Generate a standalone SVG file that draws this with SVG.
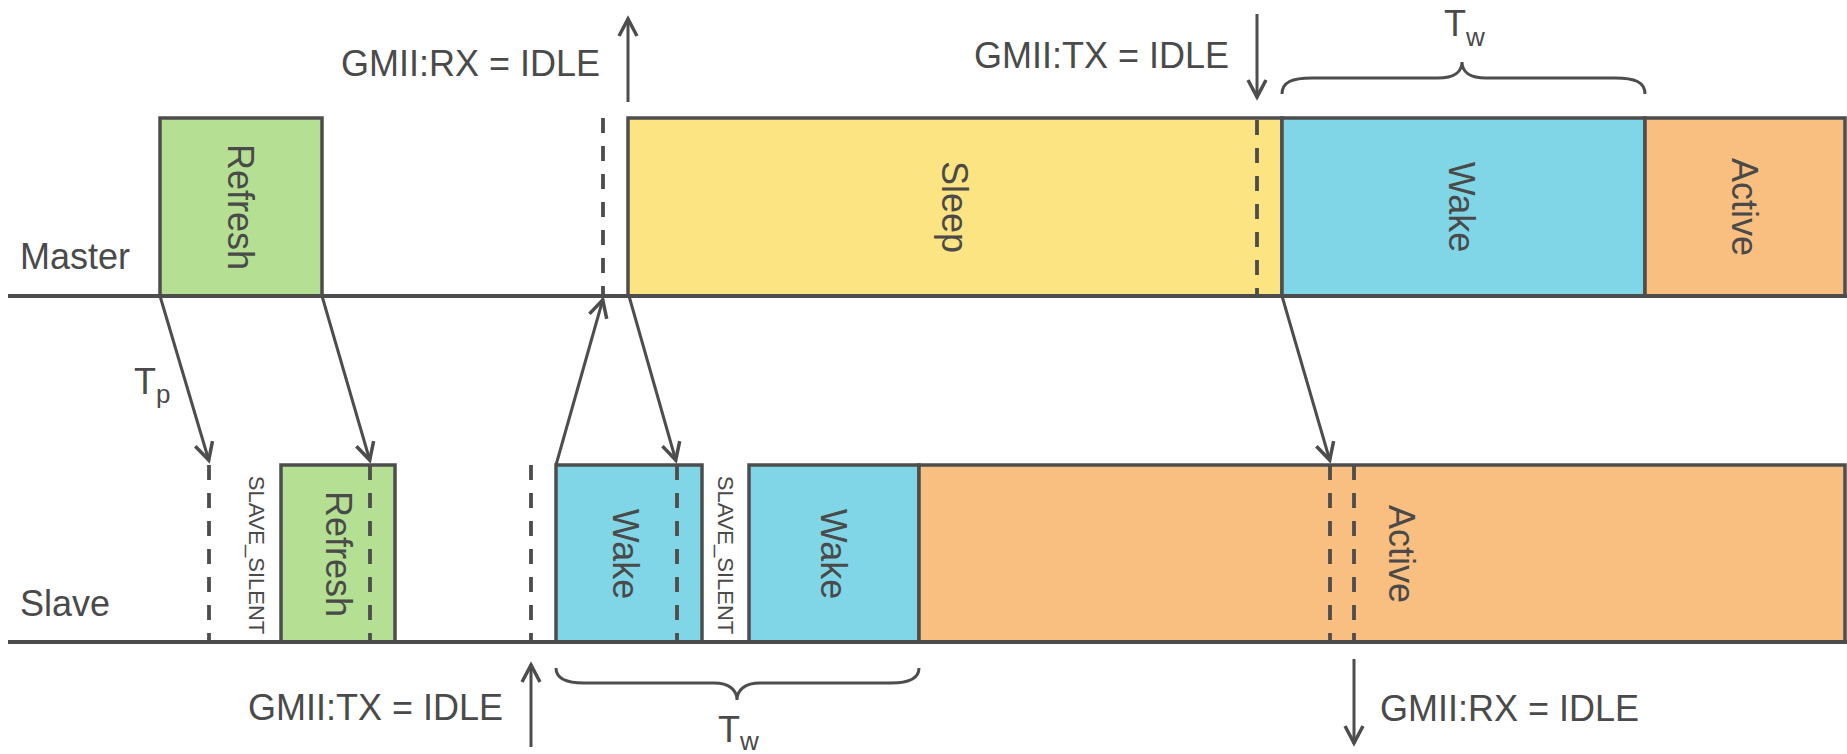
<svg xmlns="http://www.w3.org/2000/svg" width="1847" height="754" viewBox="0 0 1847 754">
  <style>
    .lbl { font-family: "Liberation Sans", Arial, sans-serif; font-size: 36px; fill: #4a4a4a; }
    .small { font-family: "Liberation Sans", Arial, sans-serif; font-size: 22px; fill: #4a4a4a; }
    .sub { font-size: 26px; }
    .box { stroke: #4d4d4d; stroke-width: 3.5; }
    .refresh { fill: #b5df92; }
    .sleep { fill: #fde482; }
    .wake { fill: #80d6e6; }
    .active { fill: #f9bf80; }
    .axis { stroke: #4d4d4d; stroke-width: 4; fill: none; }
    .dash { stroke: #4d4d4d; stroke-width: 3.8; stroke-dasharray: 15 13; fill: none; }
    .arrow { stroke: #4d4d4d; stroke-width: 3; fill: none; marker-end: url(#head); }
    .brace { stroke: #4d4d4d; stroke-width: 3; fill: none; }
  </style>
  <defs>
    <marker id="head" markerUnits="userSpaceOnUse" markerWidth="40" markerHeight="40" refX="1" refY="0" viewBox="-20 -20 40 40" orient="auto" overflow="visible">
      <path d="M -17 -9 L 0 0 L -17 9" fill="none" stroke="#4d4d4d" stroke-width="3.5" stroke-linejoin="miter"/>
    </marker>
  </defs>

  <rect width="1847" height="754" fill="#ffffff"/>

  <!-- lane names -->
  <g id="lane-labels">
    <text class="lbl" x="20" y="269">Master</text>
    <text class="lbl" x="20" y="616">Slave</text>
  </g>

  <!-- master lane states -->
  <g id="m-refresh">
    <rect class="box refresh" x="160" y="118" width="162" height="178"/>
    <text class="lbl" text-anchor="middle" transform="translate(241,207) rotate(90)" y="13">Refresh</text>
  </g>
  <g id="m-sleep">
    <rect class="box sleep" x="628" y="118" width="654" height="178"/>
    <text class="lbl" text-anchor="middle" transform="translate(955,207) rotate(90)" y="13">Sleep</text>
  </g>
  <g id="m-wake">
    <rect class="box wake" x="1282" y="118" width="363" height="178"/>
    <text class="lbl" text-anchor="middle" transform="translate(1462,207) rotate(90)" y="13">Wake</text>
  </g>
  <g id="m-active">
    <rect class="box active" x="1645" y="118" width="200" height="178"/>
    <text class="lbl" text-anchor="middle" transform="translate(1745,207) rotate(90)" y="13">Active</text>
  </g>

  <!-- slave lane states -->
  <g id="s-refresh">
    <rect class="box refresh" x="281" y="465" width="114" height="177"/>
    <text class="lbl" text-anchor="middle" transform="translate(339,554) rotate(90)" y="13">Refresh</text>
  </g>
  <g id="s-wake1">
    <rect class="box wake" x="556" y="465" width="146" height="177"/>
    <text class="lbl" text-anchor="middle" transform="translate(626,554) rotate(90)" y="13">Wake</text>
  </g>
  <g id="s-wake2">
    <rect class="box wake" x="749" y="465" width="170" height="177"/>
    <text class="lbl" text-anchor="middle" transform="translate(834,554) rotate(90)" y="13">Wake</text>
  </g>
  <g id="s-active">
    <rect class="box active" x="919" y="465" width="926" height="177"/>
    <text class="lbl" text-anchor="middle" transform="translate(1402,554) rotate(90)" y="13">Active</text>
  </g>

  <!-- quiet intervals -->
  <g id="slave-silent-1">
    <text class="small" text-anchor="middle" transform="translate(257,555) rotate(90)" y="8">SLAVE_SILENT</text>
  </g>
  <g id="slave-silent-2">
    <text class="small" text-anchor="middle" transform="translate(726,555) rotate(90)" y="8">SLAVE_SILENT</text>
  </g>

  <!-- time axes -->
  <g id="axes">
    <line class="axis" x1="8" y1="296" x2="1847" y2="296"/>
    <line class="axis" x1="8" y1="642" x2="1847" y2="642"/>
  </g>

  <!-- event markers -->
  <g id="markers">
    <line class="dash" x1="603" y1="118" x2="603" y2="296"/>
    <line class="dash" x1="1257" y1="120" x2="1257" y2="296"/>
    <line class="dash" x1="209" y1="465" x2="209" y2="642"/>
    <line class="dash" x1="370" y1="465" x2="370" y2="642"/>
    <line class="dash" x1="531" y1="465" x2="531" y2="642"/>
    <line class="dash" x1="677" y1="465" x2="677" y2="642"/>
    <line class="dash" x1="1330" y1="465" x2="1330" y2="642"/>
    <line class="dash" x1="1354" y1="465" x2="1354" y2="642"/>
  </g>

  <!-- signal annotations -->
  <g id="gmii-labels">
    <text class="lbl" x="600" y="76" text-anchor="end">GMII:RX = IDLE</text>
    <text class="lbl" x="1229" y="68" text-anchor="end">GMII:TX = IDLE</text>
    <text class="lbl" x="503" y="720" text-anchor="end">GMII:TX = IDLE</text>
    <text class="lbl" x="1380" y="721">GMII:RX = IDLE</text>
  </g>

  <!-- timing labels and braces -->
  <g id="timing">
    <text class="lbl" x="134" y="394">T<tspan class="sub" dy="9">p</tspan></text>
    <text class="lbl" x="1444" y="36">T<tspan class="sub" dy="10">w</tspan></text>
    <text class="lbl" x="718" y="742">T<tspan class="sub" dy="8">w</tspan></text>
    <path class="brace" d="M1282,94 C1282,82 1292,78 1312,78 L1438,78 C1454,78 1462,72 1462,62 C1462,72 1470,78 1486,78 L1615,78 C1635,78 1645,82 1645,94"/>
    <path class="brace" d="M556,668 C556,678 566,683 584,683 L714,683 C729,683 737,690 737,700 C737,690 745,683 760,683 L891,683 C909,683 919,678 919,668"/>
  </g>

  <!-- connectors -->
  <g id="connectors">
    <line class="arrow" x1="160" y1="296" x2="209" y2="461"/>
    <line class="arrow" x1="322" y1="296" x2="370" y2="461"/>
    <line class="arrow" x1="556" y1="465" x2="603" y2="299"/>
    <line class="arrow" x1="629" y1="296" x2="676" y2="461"/>
    <line class="arrow" x1="1282" y1="296" x2="1330" y2="461"/>
    <line class="arrow" x1="628" y1="102" x2="628" y2="18"/>
    <line class="arrow" x1="1257" y1="14" x2="1257" y2="98"/>
    <line class="arrow" x1="531" y1="747" x2="531" y2="664"/>
    <line class="arrow" x1="1354" y1="659" x2="1354" y2="744"/>
  </g>
</svg>
